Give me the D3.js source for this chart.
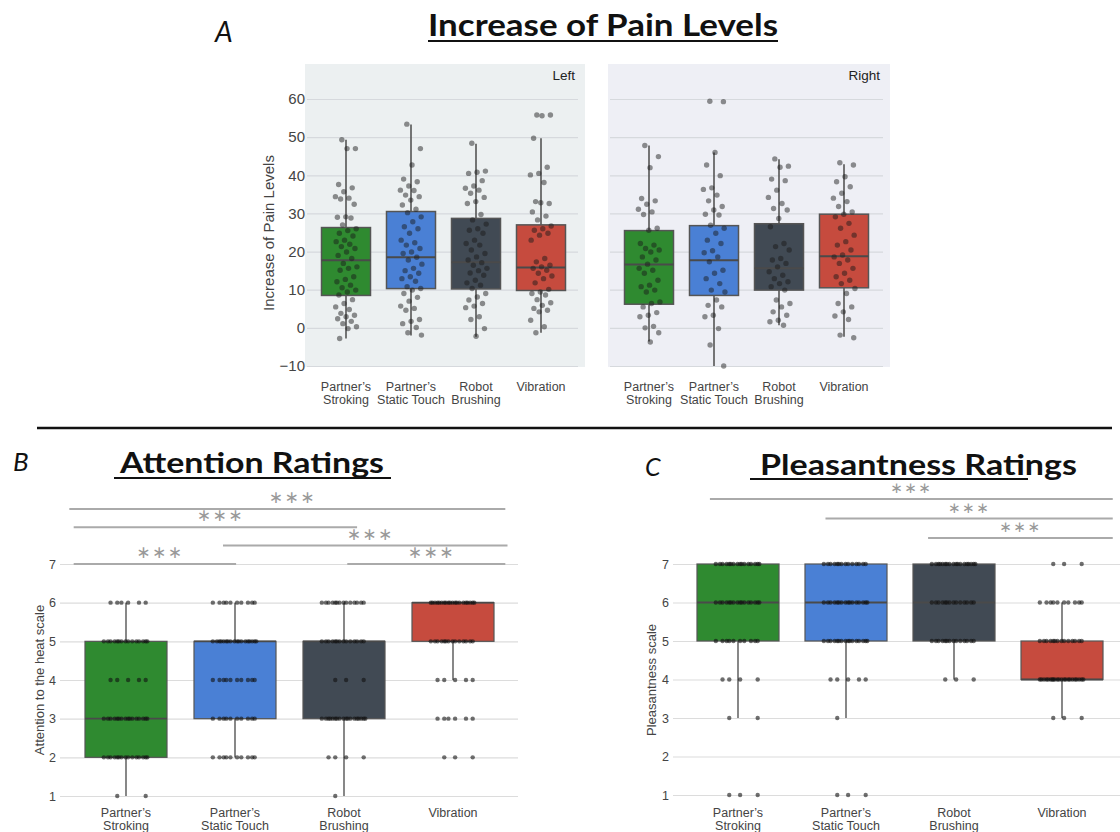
<!DOCTYPE html>
<html>
<head>
<meta charset="utf-8">
<script src="https://cdn.jsdelivr.net/npm/d3@7"></script>
<style>
  body { margin: 0; background: #fff; }
  svg { display: block; }
</style>
</head>
<body>
<div id="chart"></div>
<script>
// ---- data ----
const categories = ['Partner’s Stroking', 'Partner’s Static Touch', 'Robot Brushing', 'Vibration'];
const categoryLines = [['Partner’s', 'Stroking'], ['Partner’s', 'Static Touch'], ['Robot', 'Brushing'], ['Vibration']];
const boxColors = ['#2f8a30', '#4a80d5', '#414a54', '#c64b3e'];

const painTicks = [-10, 0, 10, 20, 30, 40, 50, 60];
const ratingTicks = [1, 2, 3, 4, 5, 6, 7];

// box stats: [whiskerLow, q1, median, q3, whiskerHigh]
const painLeftStats = [
  [-2.8, 8.5, 17.7, 26.3, 49.3],
  [-2.0, 10.3, 18.5, 30.5, 53.3],
  [-2.3, 10.2, 17.2, 28.7, 48.3],
  [-1.3, 9.8, 15.8, 27.0, 49.7]
];
const painRightStats = [
  [-3.6, 6.2, 16.6, 25.5, 47.8],
  [-10.0, 8.5, 17.7, 26.8, 46.0],
  [0.7, 9.9, 15.6, 27.3, 44.2],
  [-2.3, 10.5, 18.8, 29.8, 42.9]
];

const painLeftStroking = [49.3, 47, 47, 37.6, 36.7, 35.7, 34.4, 34, 33.8, 32.4, 29.1, 29, 28.8, 27, 26, 25.5, 24.8, 24.1, 23, 22.6, 21.9, 21.3, 20.8, 19.9, 19, 18.2, 16.9, 16, 15.6, 15.1, 13.4, 12.7, 12.1, 11.2, 10.5, 9.9, 9.4, 8.6, 7.4, 6.4, 5.5, 4.8, 3.8, 3.3, 2.9, 2.4, 1.7, 1.1, 0.3, -0.2, -2.8];
const painLeftStatic = [53.4, 47, 42.7, 39, 38.3, 37.2, 36.1, 36, 34.8, 34.4, 33.5, 32.2, 31.1, 30.2, 29.1, 27.8, 26.5, 26, 24.8, 23, 22.3, 21.7, 20.8, 19.9, 19.5, 18.5, 17.8, 16.7, 15.6, 15, 14.3, 13.4, 12.9, 12.2, 10.8, 10.3, 9.9, 9, 8, 7, 5.7, 5.1, 4.6, 2.2, 1.7, 1.1, 0.1, -1.3, -1.9];
const painLeftRobot = [48.4, 41.1, 40.8, 40.5, 38.6, 37.2, 36.6, 36.1, 35.3, 34.2, 33.1, 32.6, 29.7, 28.3, 27.2, 26, 25.6, 24.8, 23, 22.1, 21.7, 20.4, 19.5, 18.6, 17.8, 17.1, 16.4, 15.6, 15, 14.4, 13.8, 12.5, 11.8, 11.2, 10.3, 9, 8.1, 7.3, 6.4, 5.7, 5.3, 2.9, 2.2, -0.2, -2.2];
const painLeftVibration = [55.8, 55.8, 55.6, 49.7, 42.1, 40.5, 40.1, 38.1, 33.1, 32.6, 32.8, 30.4, 29.3, 28.3, 26.7, 26, 25.6, 24.8, 24.3, 23, 18.2, 17.3, 16.4, 16, 15.6, 15.1, 14.3, 13.6, 12.9, 11.8, 10.1, 9.4, 9, 8.6, 7.4, 6.6, 5.9, 5.1, 4.6, 4.2, 2, 0.3, -1.3];

const painRightStroking = [47.8, 44.9, 42, 33.9, 33.3, 32.4, 31.1, 30.4, 29.7, 26.1, 25.6, 22.1, 21.7, 20.8, 20.4, 19.9, 18.6, 17.8, 16.7, 15.6, 15.1, 14.3, 12.5, 11.2, 10.8, 9.9, 9.4, 6.8, 6.4, 5.5, 4, 3.3, 2.9, 0.4, 0, -1.3, -3.7];
const painRightStatic = [59.4, 59.3, 46, 42.7, 39.9, 36.7, 36.3, 34.8, 33.3, 31.8, 30.9, 29.8, 29.6, 26.9, 26.1, 24.8, 23, 22.1, 20.2, 19.7, 18.6, 17.3, 15.1, 14.3, 12.9, 11.6, 9.9, 9.4, 7.3, 5.9, 5.5, 3.3, 2.9, -0.2, -4.5, -10];
const painRightRobot = [44.3, 42.4, 42.1, 39, 38.6, 36.1, 34.2, 32.6, 31.3, 30.9, 28.7, 26.5, 22.1, 21.3, 20.4, 18.2, 17.8, 16.9, 16, 14.7, 13.8, 12.9, 12.1, 11.6, 10.8, 9.9, 7.3, 6.4, 5.5, 4.2, 3.3, 2, 1.6, 0.7];
const painRightVibration = [43.3, 42.7, 39.6, 38.3, 37, 35.3, 34, 33.1, 31.8, 30.4, 29.8, 29.1, 27.4, 26.1, 24.3, 22.6, 21.7, 20.4, 19.1, 18.6, 17.8, 16.9, 15.6, 14.3, 13.4, 12.5, 11.6, 10.3, 9, 6.4, 5.5, 4.2, 3.1, 2.2, -1.9, -2.6];

// counts of answers at levels 1..7
const attentionCounts = [
  [2, 15, 16, 5, 15, 6, 0],
  [0, 10, 10, 10, 18, 10, 0],
  [1, 4, 18, 3, 14, 14, 0],
  [0, 3, 6, 5, 14, 20, 0]
];
const attentionStats = [[1, 2, 3, 5, 6], [2, 3, 5, 5, 6], [1, 3, 5, 5, 6], [4, 5, 6, 6, 6]];

const pleasantCounts = [
  [3, 0, 2, 4, 10, 16, 16],
  [3, 0, 1, 5, 16, 16, 14],
  [0, 0, 0, 3, 14, 14, 18],
  [0, 0, 3, 22, 14, 10, 3]
];
const pleasantStats = [[3, 5, 6, 7, 7], [3, 5, 6, 7, 7], [4, 5, 6, 7, 7], [3, 4, 4, 5, 6]];

// significance brackets (category-index units)
const attentionSig = [
  { from: -0.52, to: 3.48, row: 0 },
  { from: -0.48, to: 2.12, row: 1 },
  { from: 0.89, to: 3.5, row: 2 },
  { from: -0.48, to: 1.01, row: 3 },
  { from: 2.03, to: 3.48, row: 3 }
];
const pleasantSig = [
  { from: -0.26, to: 3.47, row: 0 },
  { from: 0.81, to: 3.47, row: 1 },
  { from: 1.76, to: 3.47, row: 2 }
];

// ---- drawing ----
const W = 1120, H = 832;
const svg = d3.select('#chart').append('svg').attr('width', W).attr('height', H);
const AXIS_FONT = 'Liberation Sans, Arial, sans-serif';
const TITLE_FONT = 'Lato, Open Sans, sans-serif';

// deterministic jitter (layout only)
const jitter = (i, w) => (((i * 0.6180339 + 0.31) % 1) - 0.5) * w;

function xLabels(g, x, yTop, size) {
  categoryLines.forEach((lines, i) => {
    const t = g.append('text')
      .attr('x', x(categories[i]))
      .attr('y', yTop)
      .attr('text-anchor', 'middle')
      .attr('font-family', AXIS_FONT)
      .attr('font-size', size)
      .attr('fill', '#444');
    lines.forEach((l, k) => t.append('tspan').attr('x', x(categories[i])).attr('dy', k === 0 ? 0 : size + 0.5).text(l));
  });
}

function drawBoxes(g, x, y, stats, opts) {
  stats.forEach((s, i) => {
    const cx = x(categories[i]);
    const [lo, q1, med, q3, hi] = s;
    g.append('line').attr('x1', cx).attr('x2', cx).attr('y1', y(hi)).attr('y2', y(q3))
      .attr('stroke', '#555').attr('stroke-width', opts.whisker);
    g.append('line').attr('x1', cx).attr('x2', cx).attr('y1', y(q1)).attr('y2', y(lo))
      .attr('stroke', '#555').attr('stroke-width', opts.whisker);
    g.append('rect')
      .attr('x', cx - opts.boxW / 2).attr('width', opts.boxW)
      .attr('y', y(q3)).attr('height', Math.max(0, y(q1) - y(q3)))
      .attr('fill', boxColors[i]).attr('stroke', '#555').attr('stroke-width', opts.stroke);
    g.append('line').attr('x1', cx - opts.boxW / 2).attr('x2', cx + opts.boxW / 2)
      .attr('y1', y(med)).attr('y2', y(med))
      .attr('stroke', '#4a4a4a').attr('stroke-width', opts.median);
  });
}

// ---------- Panel A ----------
const yA = d3.scaleLinear().domain([-10, 60]).range([366, 99]);
const facets = [
  { name: 'Left', x0: 305, x1: 585, bg: '#ecf0f1', range: [346, 541], stats: painLeftStats,
    points: [painLeftStroking, painLeftStatic, painLeftRobot, painLeftVibration] },
  { name: 'Right', x0: 608, x1: 890, bg: '#eeeff5', range: [649, 844], stats: painRightStats,
    points: [painRightStroking, painRightStatic, painRightRobot, painRightVibration] }
];

const gA = svg.append('g');
facets.forEach((f, fi) => {
  const x = d3.scalePoint().domain(categories).range(f.range);
  gA.append('rect').attr('x', f.x0).attr('y', 64).attr('width', f.x1 - f.x0).attr('height', 303).attr('fill', f.bg);

  const grid = gA.append('g')
    .attr('transform', `translate(${f.x0 + 2},0)`)
    .call(d3.axisLeft(yA).tickValues(painTicks).tickSize(-(f.x1 - f.x0 - 9)).tickFormat(fi === 0 ? d3.format('d') : ''));
  grid.select('.domain').remove();
  grid.selectAll('.tick line').attr('stroke', '#d6d9dd').attr('stroke-width', 1.2);
  grid.selectAll('.tick text').attr('font-family', AXIS_FONT).attr('font-size', 15).attr('fill', '#444').attr('x', -2);

  gA.append('text').attr('x', f.x1 - 10).attr('y', 80).attr('text-anchor', 'end')
    .attr('font-family', AXIS_FONT).attr('font-size', 13.5).attr('fill', '#222').text(f.name);

  drawBoxes(gA, x, yA, f.stats, { boxW: 49, whisker: 1.6, stroke: 1.5, median: 2 });

  f.points.forEach((vals, i) => {
    gA.append('g').selectAll('circle').data(vals).enter().append('circle')
      .attr('cx', (d, k) => x(categories[i]) + jitter(k, 22))
      .attr('cy', d => yA(d))
      .attr('r', 2.7)
      .attr('fill', '#1a1a1a')
      .attr('fill-opacity', 0.48);
  });

  xLabels(gA, x, 391, 12.5);
});

gA.append('text')
  .attr('transform', 'translate(274,233) rotate(-90)')
  .attr('text-anchor', 'middle')
  .attr('font-family', AXIS_FONT).attr('font-size', 15).attr('fill', '#444')
  .text('Increase of Pain Levels');

// titles / panel letters
function title(text, x, y, len, size, ux0, ux1, uy) {
  svg.append('text').attr('x', x).attr('y', y)
    .attr('font-family', TITLE_FONT).attr('font-weight', 'bold').attr('font-size', size)
    .attr('fill', '#111')
    .attr('textLength', len).attr('lengthAdjust', 'spacingAndGlyphs')
    .text(text);
  svg.append('line').attr('x1', ux0).attr('x2', ux1).attr('y1', uy).attr('y2', uy)
    .attr('stroke', '#111').attr('stroke-width', 2);
}
function letter(t, x, y, size) {
  svg.append('text').attr('x', x).attr('y', y)
    .attr('font-family', TITLE_FONT).attr('font-style', 'italic').attr('font-size', size)
    .attr('fill', '#111').text(t);
}

title('Increase of  Pain Levels', 428, 36, 350, 31, 428, 778, 41);
letter('A', 215, 42, 28);

svg.append('line').attr('x1', 37).attr('x2', 1112).attr('y1', 428).attr('y2', 428)
  .attr('stroke', '#111').attr('stroke-width', 2.5);

// ---------- Panels B & C ----------
function ratingPanel(cfg) {
  const g = svg.append('g');
  const x = d3.scalePoint().domain(categories).range(cfg.range);
  const xi = d3.scaleLinear().domain([0, 3]).range(cfg.range);
  const y = d3.scaleLinear().domain([1, 7]).range(cfg.yRange);

  const grid = g.append('g')
    .attr('transform', `translate(${cfg.gridX0},0)`)
    .call(d3.axisLeft(y).tickValues(ratingTicks).tickSize(-(cfg.gridX1 - cfg.gridX0)).tickFormat(d3.format('d')));
  grid.select('.domain').remove();
  grid.selectAll('.tick line').attr('stroke', '#dcdcdc').attr('stroke-width', 1.2);
  grid.selectAll('.tick text').attr('font-family', AXIS_FONT).attr('font-size', 12.5).attr('fill', '#444').attr('x', -4);

  drawBoxes(g, x, y, cfg.stats, { boxW: 82, whisker: 1.4, stroke: 1.2, median: 1.8 });

  cfg.counts.forEach((levels, i) => {
    const pts = [];
    levels.forEach((n, li) => { for (let k = 0; k < n; k++) pts.push({ v: li + 1, k }); });
    g.append('g').selectAll('circle').data(pts).enter().append('circle')
      .attr('cx', d => x(categories[i]) + jitter(d.k, 46))
      .attr('cy', d => y(d.v))
      .attr('r', 2.2)
      .attr('fill', '#111')
      .attr('fill-opacity', 0.6);
  });

  xLabels(g, x, 817, 12.5);

  g.append('text')
    .attr('transform', `translate(${cfg.yTitleX},680) rotate(-90)`)
    .attr('text-anchor', 'middle')
    .attr('font-family', AXIS_FONT).attr('font-size', 13).attr('fill', '#444')
    .text(cfg.yTitle);

  cfg.sig.forEach(s => {
    const yy = cfg.sigTop + s.row * cfg.sigStep;
    g.append('line').attr('x1', xi(s.from)).attr('x2', xi(s.to)).attr('y1', yy).attr('y2', yy)
      .attr('stroke', '#aaa').attr('stroke-width', 2);
    g.append('text').attr('x', (xi(s.from) + xi(s.to)) / 2 + cfg.sigShift).attr('y', yy - 6)
      .attr('text-anchor', 'middle')
      .attr('font-family', 'DejaVu Sans, sans-serif').attr('font-size', cfg.sigSize).attr('fill', '#999')
      .attr('letter-spacing', 1.5)
      .text('∗∗∗');
  });
}

ratingPanel({
  range: [126, 453], yRange: [796, 564], gridX0: 60, gridX1: 518,
  stats: attentionStats, counts: attentionCounts, yTitle: 'Attention to the heat scale', yTitleX: 44,
  sig: attentionSig, sigTop: 509, sigStep: 18.3, sigShift: 5, sigSize: 17
});
ratingPanel({
  range: [738, 1062], yRange: [795, 564], gridX0: 673, gridX1: 1120,
  stats: pleasantStats, counts: pleasantCounts, yTitle: 'Pleasantness scale', yTitleX: 656,
  sig: pleasantSig, sigTop: 499, sigStep: 19.5, sigShift: 0, sigSize: 15
});

title('Attention Ratings', 120, 473, 264, 28, 114, 391, 478);
letter('B', 13, 471, 26);
title('Pleasantness Ratings', 760, 475, 317, 28, 750, 1028, 479);
letter('C', 645, 476, 25);
</script>
</body>
</html>
